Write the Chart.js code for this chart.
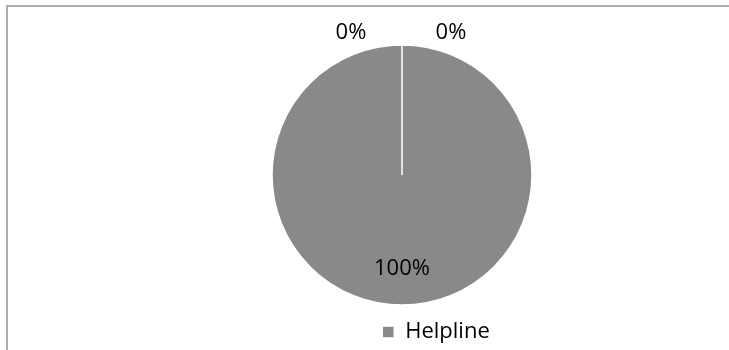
<!DOCTYPE html>
<html>
<head>
<meta charset="utf-8">
<script src="https://cdn.jsdelivr.net/npm/chart.js@4"></script>
<style>
  html, body { margin: 0; padding: 0; background: #fff; }
  #wrap { position: relative; width: 729px; height: 350px; overflow: hidden; }
  #frame { position: absolute; left: 6px; top: 5px; width: 800px; height: 400px;
           border-top: 2px solid #adadad; border-left: 2px solid #adadad; }
  canvas { position: absolute; left: 0; top: 0; }
</style>
</head>
<body>
<div id="wrap">
  <div id="frame"></div>
  <canvas id="pieChart" width="729" height="350"></canvas>
</div>
<script>
// DATA
const categories = ["Helpline", "", ""];
const shares = [100, 0, 0];
const sliceColors = ["#898989", "#898989", "#898989"];

// LABELS ON THE SLICES
const sliceLabels = {
  id: "sliceLabels",
  afterDatasetsDraw(chart) {
    const ctx = chart.ctx;
    const meta = chart.getDatasetMeta(0);
    let zeroCount = 0;
    ctx.save();
    ctx.font = "22px 'Open Sans'";
    ctx.fillStyle = "#000";
    ctx.textAlign = "center";
    ctx.textBaseline = "middle";
    meta.data.forEach(function (arc, i) {
      const p = arc.getProps(["x", "y", "startAngle", "endAngle", "outerRadius"], true);
      const mid = (p.startAngle + p.endAngle) / 2;
      let x, y;
      if (shares[i] > 0) {
        x = p.x + Math.cos(mid) * p.outerRadius * 0.72;
        y = p.y + Math.sin(mid) * p.outerRadius * 0.72;
      } else {
        // zero slices sit at the top, put them outside to the left and right
        x = p.x + Math.cos(mid) * (p.outerRadius + 12) + (zeroCount === 0 ? -51 : 49);
        y = p.y + Math.sin(mid) * (p.outerRadius + 12);
        zeroCount++;
      }
      ctx.fillText(shares[i] + "%", x, y);
    });
    ctx.restore();
  }
};

// move legend a bit to the right like the original
const legendShift = {
  id: "legendShift",
  afterLayout(chart) {
    chart.legend.left += 34;
    chart.legend.right += 34;
  }
};

const ctx = document.getElementById("pieChart").getContext("2d");

new Chart(ctx, {
  type: "pie",
  data: {
    labels: categories,
    datasets: [{
      data: shares,
      backgroundColor: sliceColors,
      borderColor: "#ffffff",
      borderWidth: 1.5,
      radius: 130
    }]
  },
  options: {
    responsive: false,
    animation: false,
    layout: { padding: { left: 75, top: 37, bottom: -3 } },
    plugins: {
      tooltip: { enabled: false },
      legend: {
        position: "bottom",
        labels: {
          font: { family: "'Open Sans'", size: 22 },
          color: "#000",
          boxWidth: 12,
          boxHeight: 12,
          padding: 8,
          filter: function (item) { return item.text !== ""; }
        }
      }
    }
  },
  plugins: [sliceLabels, legendShift]
});
</script>
</body>
</html>
